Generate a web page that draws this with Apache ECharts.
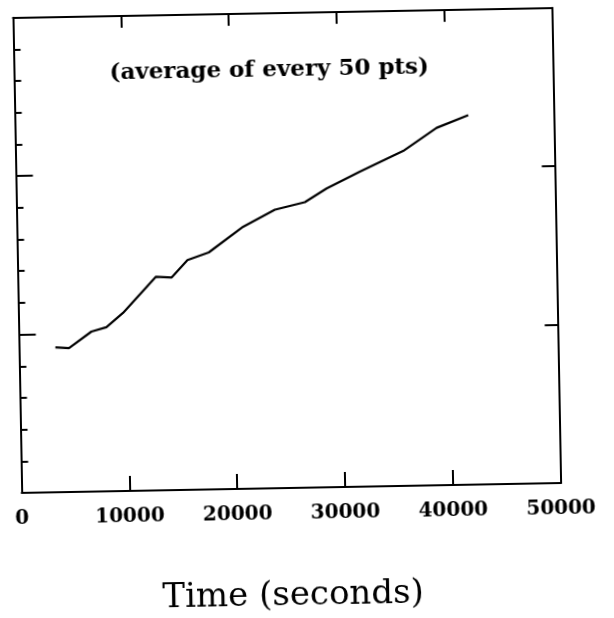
<!DOCTYPE html>
<html>
<head>
<meta charset="utf-8">
<style>
  html, body { margin: 0; padding: 0; background: #ffffff; }
  /* the plotted page sits slightly tilted, as on the scanned sheet */
  #chart { width: 614px; height: 618px; transform: rotate(-1.05deg); transform-origin: 287px 261px; }
</style>
<script src="https://cdn.jsdelivr.net/npm/echarts@6/dist/echarts.min.js"></script>
</head>
<body>
<div id="chart"></div>
<script>
// running average (every 50 points) against elapsed time
const timeSeconds = [3370, 4630, 6740, 8140, 9700, 12800, 14260, 15770, 17760, 20990, 23960, 26760, 28790, 31910, 35970, 39100, 42060];
const avgValue    = [4.57, 4.54, 5.05, 5.18, 5.62, 6.74, 6.71, 7.25, 7.48, 8.27, 8.79, 9.01, 9.43, 9.94, 10.57, 11.28, 11.66];

const xTicks = { min: 0, max: 50000, step: 10000 };
const yTicks = { min: 0, max: 15, minor: 1, major: 5 };

const noteText = '(average of every 50 pts)';
const xAxisTitle = 'Time (seconds)';

const points = timeSeconds.map((t, i) => [t, avgValue[i]]);

const ink = '#000000';
const serif = 'DejaVu Serif';

const chart = echarts.init(document.getElementById('chart'), null, { renderer: 'canvas' });
chart.setOption({
  animation: false,
  backgroundColor: '#ffffff',
  title: {
    text: noteText,
    left: 108,
    top: 54,
    textStyle: { fontFamily: serif, fontWeight: 'bold', fontSize: 23, color: ink, lineHeight: 23 }
  },
  grid: { left: 17.5, top: 12.75, width: 539, height: 497, containLabel: false },
  xAxis: [
    {
      type: 'value', position: 'bottom',
      min: xTicks.min, max: xTicks.max, interval: xTicks.step,
      name: xAxisTitle, nameLocation: 'middle', nameGap: 91,
      nameTextStyle: { fontFamily: serif, fontSize: 34, color: ink },
      axisLine: { show: true, onZero: false, lineStyle: { color: ink, width: 2 } },
      axisTick: { show: true, inside: true, length: 15, lineStyle: { color: ink, width: 2 } },
      axisLabel: {
        margin: 16, fontFamily: serif, fontWeight: 'bold', fontSize: 20, color: ink,
        showMinLabel: true, showMaxLabel: true,
        formatter: v => String(v)
      },
      splitLine: { show: false }
    },
    {
      type: 'value', position: 'top',
      min: xTicks.min, max: xTicks.max, interval: xTicks.step,
      axisLine: { show: true, onZero: false, lineStyle: { color: ink, width: 2 } },
      axisTick: { show: true, inside: true, length: 12, lineStyle: { color: ink, width: 2 } },
      axisLabel: { show: false },
      splitLine: { show: false }
    }
  ],
  yAxis: [
    {
      type: 'value', position: 'left',
      min: yTicks.min, max: yTicks.max, interval: yTicks.minor,
      axisLine: { show: true, onZero: false, lineStyle: { color: ink, width: 2 } },
      axisTick: { show: true, inside: true, length: 7, lineStyle: { color: ink, width: 2 } },
      axisLabel: { show: false },
      splitLine: { show: false }
    },
    {
      type: 'value', position: 'left', offset: 0,
      min: yTicks.min, max: yTicks.max, interval: yTicks.major,
      axisLine: { show: false, onZero: false },
      axisTick: { show: true, inside: true, length: 17, lineStyle: { color: ink, width: 2 } },
      axisLabel: { show: false },
      splitLine: { show: false }
    },
    {
      type: 'value', position: 'right',
      min: yTicks.min, max: yTicks.max, interval: yTicks.major,
      axisLine: { show: true, onZero: false, lineStyle: { color: ink, width: 2 } },
      axisTick: { show: true, inside: true, length: 13, lineStyle: { color: ink, width: 2 } },
      axisLabel: { show: false },
      splitLine: { show: false }
    }
  ],
  series: [
    {
      type: 'line',
      xAxisIndex: 0, yAxisIndex: 0,
      data: points,
      showSymbol: false,
      symbol: 'none',
      smooth: false,
      lineStyle: { color: ink, width: 2.2 }
    }
  ]
});
</script>
</body>
</html>
